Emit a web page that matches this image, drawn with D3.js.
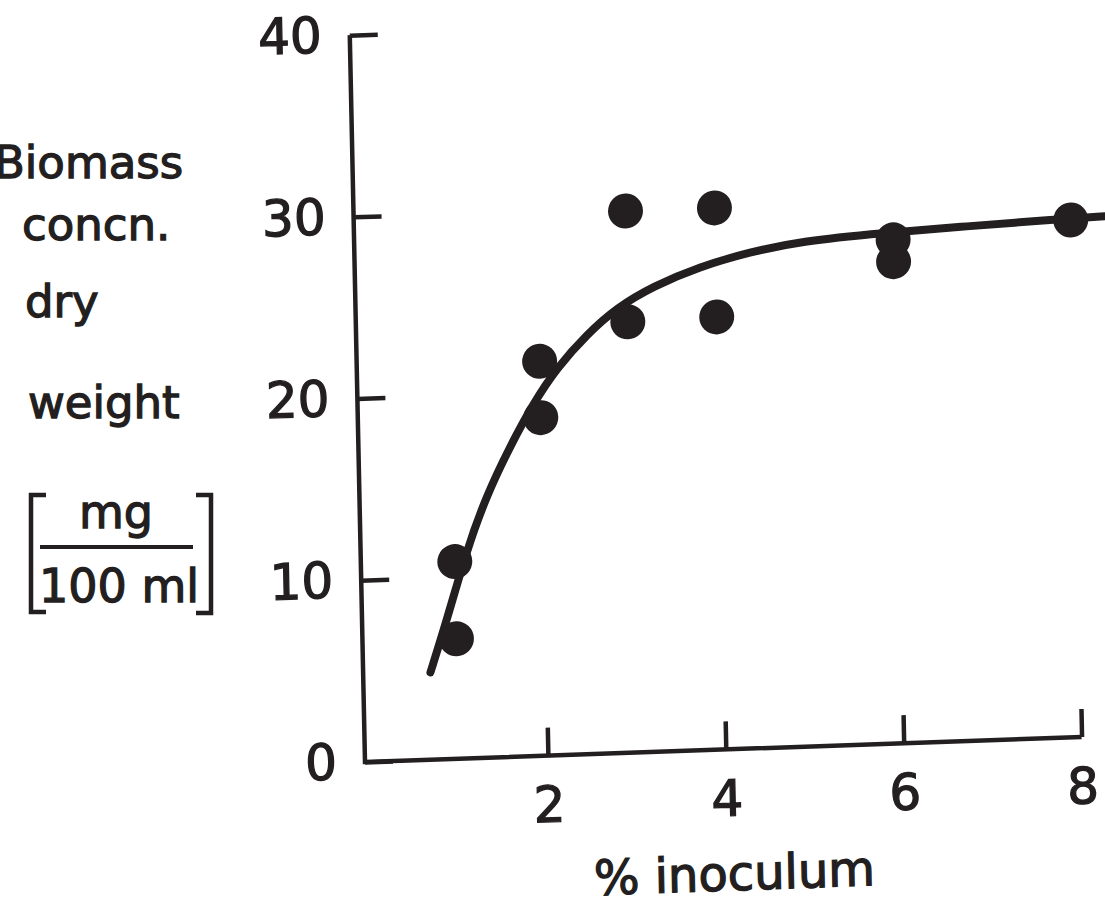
<!DOCTYPE html>
<html>
<head>
<meta charset="utf-8">
<script src="https://cdn.jsdelivr.net/npm/d3@7"></script>
<style>
    body { margin: 0; background: #fff; }
    svg { display: block; }
    text { font-family: "DejaVu Sans", sans-serif; fill: #231f20; stroke: #231f20; stroke-width: 1.3px; }
</style>
</head>
<body>
<div id="chart"></div>
<script>
// measured points: % inoculum vs biomass (mg / 100 ml)
const inoculum = [1, 1, 2, 2, 3, 3, 4, 4, 6, 6, 8];
const biomass = [10.85, 6.6, 21.7, 18.6, 29.8, 23.7, 29.8, 23.8, 27.7, 26.5, 28.45];

// fitted curve
const curveX = [0.7, 0.9, 1.14, 1.37, 1.65, 1.92, 2.19, 2.54, 2.88, 3.29, 3.82, 4.39, 4.95, 5.89, 6.83, 7.77, 8.45];
const curveY = [4.8, 7.7, 11.5, 14.4, 17.1, 19.4, 21.3, 23.1, 24.5, 25.6, 26.6, 27.3, 27.8, 28.1, 28.3, 28.5, 28.6];

const xTicks = [2, 4, 6, 8];
const yTicks = [0, 10, 20, 30, 40];

const yLabelLines = ["Biomass", "concn.", "dry", "weight"];
const unitTop = "mg";
const unitBottom = "100 ml";
const xTitle = "% inoculum";

const ink = "#231f20";
const width = 1105, height = 911;

const svg = d3.select("#chart").append("svg")
    .attr("width", width)
    .attr("height", height);

// the scanned figure is slightly tilted, so the plot sits in a skewed frame
const tiltX = -2.0 * Math.PI / 180;
const tiltY = -1.2 * Math.PI / 180;
const plot = svg.append("g")
    .attr("transform", `matrix(${Math.cos(tiltX)},${Math.sin(tiltX)},${-Math.sin(tiltY)},${Math.cos(tiltY)},365,762)`);

const x = d3.scaleLinear().domain([0, 8]).range([5, 717]);
const y = d3.scaleLinear().domain([0, 40]).range([0, -727]);

// axis frame
plot.append("path")
    .attr("d", `M0,${y(40)}V${y(0)}H${x(8)}`)
    .attr("fill", "none")
    .attr("stroke", ink)
    .attr("stroke-width", 4.5);

const xAxis = plot.append("g")
    .call(d3.axisBottom(x).tickValues(xTicks).tickSize(-28).tickPadding(31).tickFormat(d3.format("d")));
xAxis.select(".domain").remove();

const yAxis = plot.append("g")
    .call(d3.axisLeft(y).tickValues(yTicks).tickSize(-28).tickPadding(28).tickFormat(d3.format("d")));
yAxis.select(".domain").remove();

[xAxis, yAxis].forEach((g) => {
    g.style("color", ink)
        .attr("font-family", "DejaVu Sans, sans-serif")
        .attr("font-size", 50);
    g.selectAll(".tick line").attr("stroke-width", 4.5);
});

// fitted curve
const line = d3.line()
    .x((d) => x(d[0]))
    .y((d) => y(d[1]))
    .curve(d3.curveBasis);

plot.append("path")
    .datum(d3.zip(curveX, curveY))
    .attr("d", line)
    .attr("fill", "none")
    .attr("stroke", ink)
    .attr("stroke-width", 8)
    .attr("stroke-linecap", "round");

// data points
plot.selectAll("circle.pt")
    .data(d3.zip(inoculum, biomass))
    .enter()
    .append("circle")
    .attr("class", "pt")
    .attr("cx", (d) => x(d[0]))
    .attr("cy", (d) => y(d[1]))
    .attr("r", 17.5)
    .attr("fill", ink);

// x title
plot.append("text")
    .attr("x", 367)
    .attr("y", 141)
    .attr("text-anchor", "middle")
    .attr("font-size", 48)
    .text(xTitle);

// y title, stacked words
const lineX = [-6, 22, 25, 28];
const lineY = [178, 240, 317, 418];
svg.selectAll("text.ylab")
    .data(yLabelLines)
    .enter()
    .append("text")
    .attr("class", "ylab")
    .attr("x", (d, i) => lineX[i])
    .attr("y", (d, i) => lineY[i])
    .attr("font-size", 45)
    .text((d) => d);

// units in brackets
const unit = svg.append("g");
unit.append("text")
    .attr("x", 116)
    .attr("y", 528)
    .attr("text-anchor", "middle")
    .attr("font-size", 46)
    .text(unitTop);
unit.append("line")
    .attr("x1", 40).attr("x2", 193)
    .attr("y1", 547).attr("y2", 547)
    .attr("stroke", ink)
    .attr("stroke-width", 4);
unit.append("text")
    .attr("x", 119)
    .attr("y", 602)
    .attr("text-anchor", "middle")
    .attr("font-size", 46)
    .text(unitBottom);
unit.append("path")
    .attr("d", "M46,495H31V612H46M196,495H211V613H196")
    .attr("fill", "none")
    .attr("stroke", ink)
    .attr("stroke-width", 4.5);
</script>
</body>
</html>
